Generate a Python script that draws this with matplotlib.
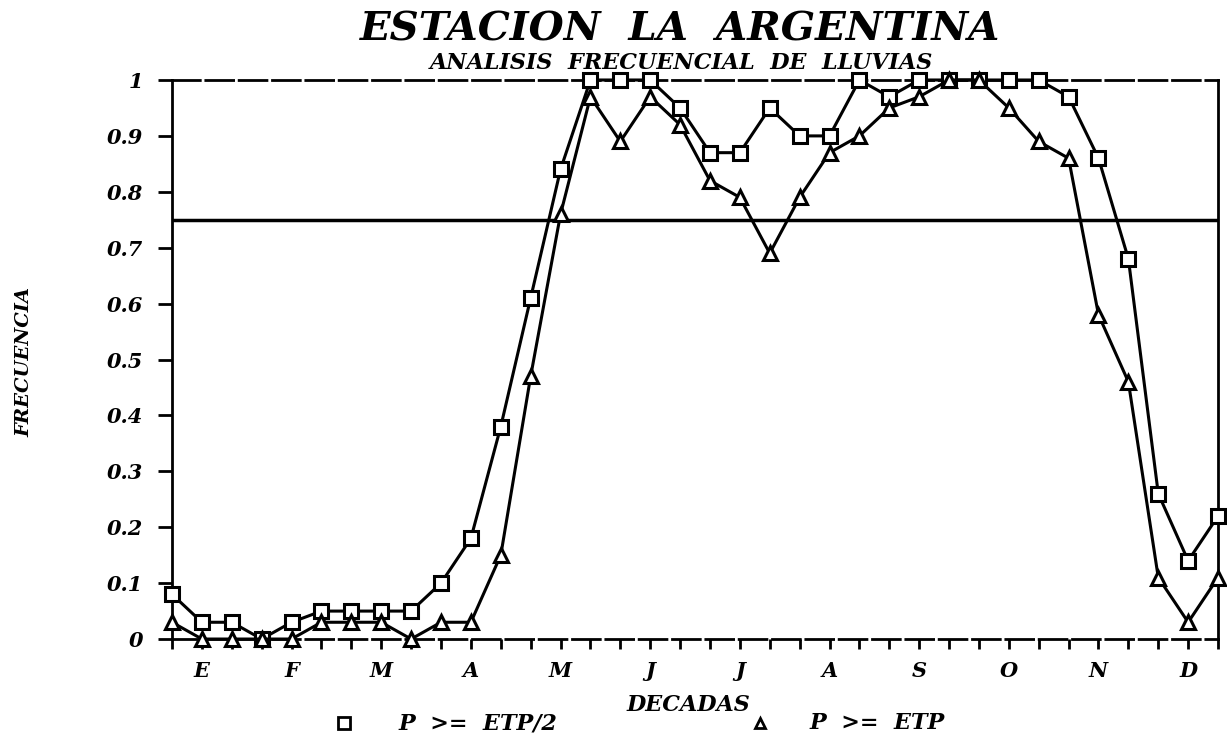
import numpy as np
import matplotlib.pyplot as plt
from matplotlib.lines import Line2D

# decades of the year (3 per month)
decadas = np.arange(36)
meses = ['E', 'F', 'M', 'A', 'M', 'J', 'J', 'A', 'S', 'O', 'N', 'D']

# frequency P >= ETP/2
p_etp2 = [0.08, 0.03, 0.03, 0.00, 0.03, 0.05, 0.05, 0.05, 0.05, 0.10,
          0.18, 0.38, 0.61, 0.84, 1.00, 1.00, 1.00, 0.95, 0.87, 0.87,
          0.95, 0.90, 0.90, 1.00, 0.97, 1.00, 1.00, 1.00, 1.00, 1.00,
          0.97, 0.86, 0.68, 0.26, 0.14, 0.22]

# frequency P >= ETP
p_etp = [0.03, 0.00, 0.00, 0.00, 0.00, 0.03, 0.03, 0.03, 0.00, 0.03,
         0.03, 0.15, 0.47, 0.76, 0.97, 0.89, 0.97, 0.92, 0.82, 0.79,
         0.69, 0.79, 0.87, 0.90, 0.95, 0.97, 1.00, 1.00, 0.95, 0.89,
         0.86, 0.58, 0.46, 0.11, 0.03, 0.11]

umbral = 0.75

font = dict(family='DejaVu Serif', weight='bold', style='italic')
plt.rc('font', **font)

fig = plt.figure(figsize=(12.27, 7.38), dpi=100)
ax = fig.add_axes([0.1402, 0.1341, 0.8525, 0.7575])

ax.plot(decadas, p_etp2, '-k', marker='s', markersize=10, markerfacecolor='white',
        markeredgewidth=2.2, linewidth=2.2, clip_on=False, zorder=3)
ax.plot(decadas, p_etp, '-k', marker='^', markersize=10, markerfacecolor='white',
        markeredgewidth=2.2, linewidth=2.2, clip_on=False, zorder=3)
ax.axhline(umbral, color='k', linewidth=2.5)

ax.set_xlim(0, 35)
ax.set_ylim(0, 1)

ax.set_yticks(np.arange(0, 1.01, 0.1))
ax.set_yticklabels(['0'] + ['%.1f' % v for v in np.arange(0.1, 0.95, 0.1)] + ['1'])
ax.set_xticks(decadas)
ax.set_xticklabels(['' if i % 3 != 1 else meses[i // 3] for i in decadas])
ax.tick_params(axis='y', length=10, width=2, pad=11, labelsize=15)
ax.tick_params(axis='x', length=7, width=2, pad=9, labelsize=15)

for s in ['left', 'right']:
    ax.spines[s].set_linewidth(2)
for s in ['top', 'bottom']:
    ax.spines[s].set_linewidth(2)
    ax.spines[s].set_linestyle((0, (10, 2)))

fig.text(0.554, 0.96, 'ESTACION  LA  ARGENTINA', ha='center', va='center',
         fontsize=29)
fig.text(0.555, 0.914, 'ANALISIS  FRECUENCIAL  DE  LLUVIAS', ha='center', va='center',
         fontsize=16)
fig.text(0.02, 0.51, 'FRECUENCIA', rotation=90, ha='center', va='center', fontsize=14)
fig.text(0.561, 0.045, 'DECADAS', ha='center', va='center', fontsize=16)

# legend drawn as free text under the axis
fig.add_artist(Line2D([0.28], [0.02], marker='s', markersize=8, markerfacecolor='white',
                      markeredgecolor='k', markeredgewidth=2, transform=fig.transFigure))
fig.text(0.325, 0.02, 'P  >=  ETP/2', ha='left', va='center', fontsize=16)
fig.add_artist(Line2D([0.619], [0.02], marker='^', markersize=7, markerfacecolor='white',
                      markeredgecolor='k', markeredgewidth=2, transform=fig.transFigure))
fig.text(0.660, 0.02, 'P  >=  ETP', ha='left', va='center', fontsize=16)

fig.savefig('out.png', dpi=100)
